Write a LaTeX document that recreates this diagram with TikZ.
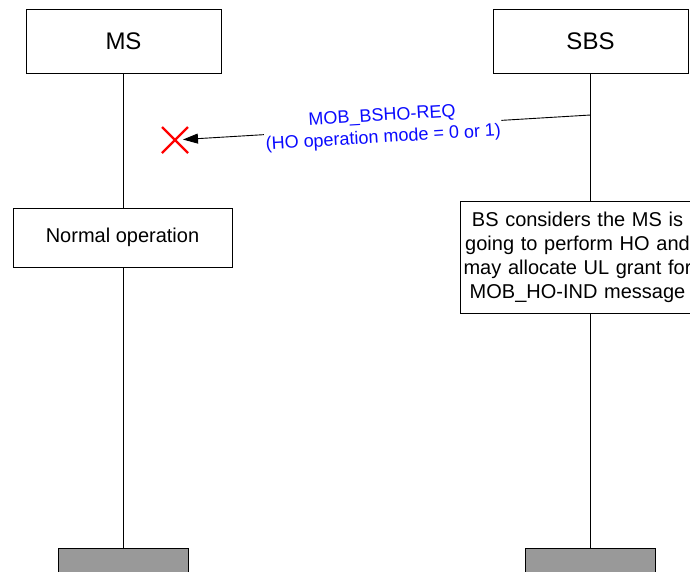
\documentclass[tikz,border=0pt]{standalone}
\usepackage{fontspec}
\setmainfont{Liberation Sans}
\usetikzlibrary{arrows.meta,calc}
\definecolor{endgray}{HTML}{999999}
\definecolor{msgblue}{RGB}{10,10,255}
\definecolor{lostred}{RGB}{255,0,0}
\begin{document}
\begin{tikzpicture}[x=1pt,y=-1pt,
  ent/.style={draw,line width=0.9pt,minimum width=195pt,minimum height=64pt,inner sep=0pt,font=\fontsize{24}{28}\selectfont},
  act/.style={draw,line width=0.8pt,fill=white,inner sep=0pt,font=\fontsize{20}{24}\selectfont,align=center},
  endbox/.style={draw,line width=0.9pt,fill=endgray,minimum width=130pt,minimum height=40pt,inner sep=0pt},
  life/.style={line width=0.8pt},
  msg/.style={line width=0.9pt,-{Triangle[length=15pt,width=10pt]}},
  lbl/.style={text=msgblue,font=\fontsize{18}{22}\selectfont,align=center,fill=white,inner sep=1pt},
  lost/.style={draw=lostred,line width=2.2pt}]
\useasboundingbox (0,0) rectangle (690,571);
\clip (0,0) rectangle (690,571);
\node[ent] (ms) at (123.5,41) {MS};
\node[ent] (sbs) at (590.5,41) {SBS};
\node[act,minimum width=219pt,minimum height=59pt] (norm) at (122.5,237.5) {Normal operation};
\node[act,minimum width=235pt,minimum height=112pt,text width=233pt] (bsc) at (577.5,257) {BS considers the MS is\\going to perform HO and\\may allocate UL grant for\\MOB\_HO-IND message};
\node[endbox] (msend) at (123.5,568) {};
\node[endbox] (sbsend) at (590.5,568) {};
\draw[life] (ms.south) -- (ms.south |- norm.north);
\draw[life] (ms.south |- norm.south) -- (msend.north);
\draw[life] (sbs.south) -- (sbs.south |- bsc.north);
\draw[life] (sbs.south |- bsc.south) -- (sbsend.north);
\coordinate (src) at (sbs.south |- 0,115);
\coordinate (lostpt) at (175,140);
\draw[msg,shorten >=8pt] (src) -- node[lbl,sloped,pos=0.5] {MOB\_BSHO-REQ\\(HO operation mode = 0 or 1)} (lostpt);
\draw[lost] ($(lostpt)+(-13,-13)$) -- ($(lostpt)+(13,13)$);
\draw[lost] ($(lostpt)+(-13,13)$) -- ($(lostpt)+(13,-13)$);
\end{tikzpicture}
\end{document}
